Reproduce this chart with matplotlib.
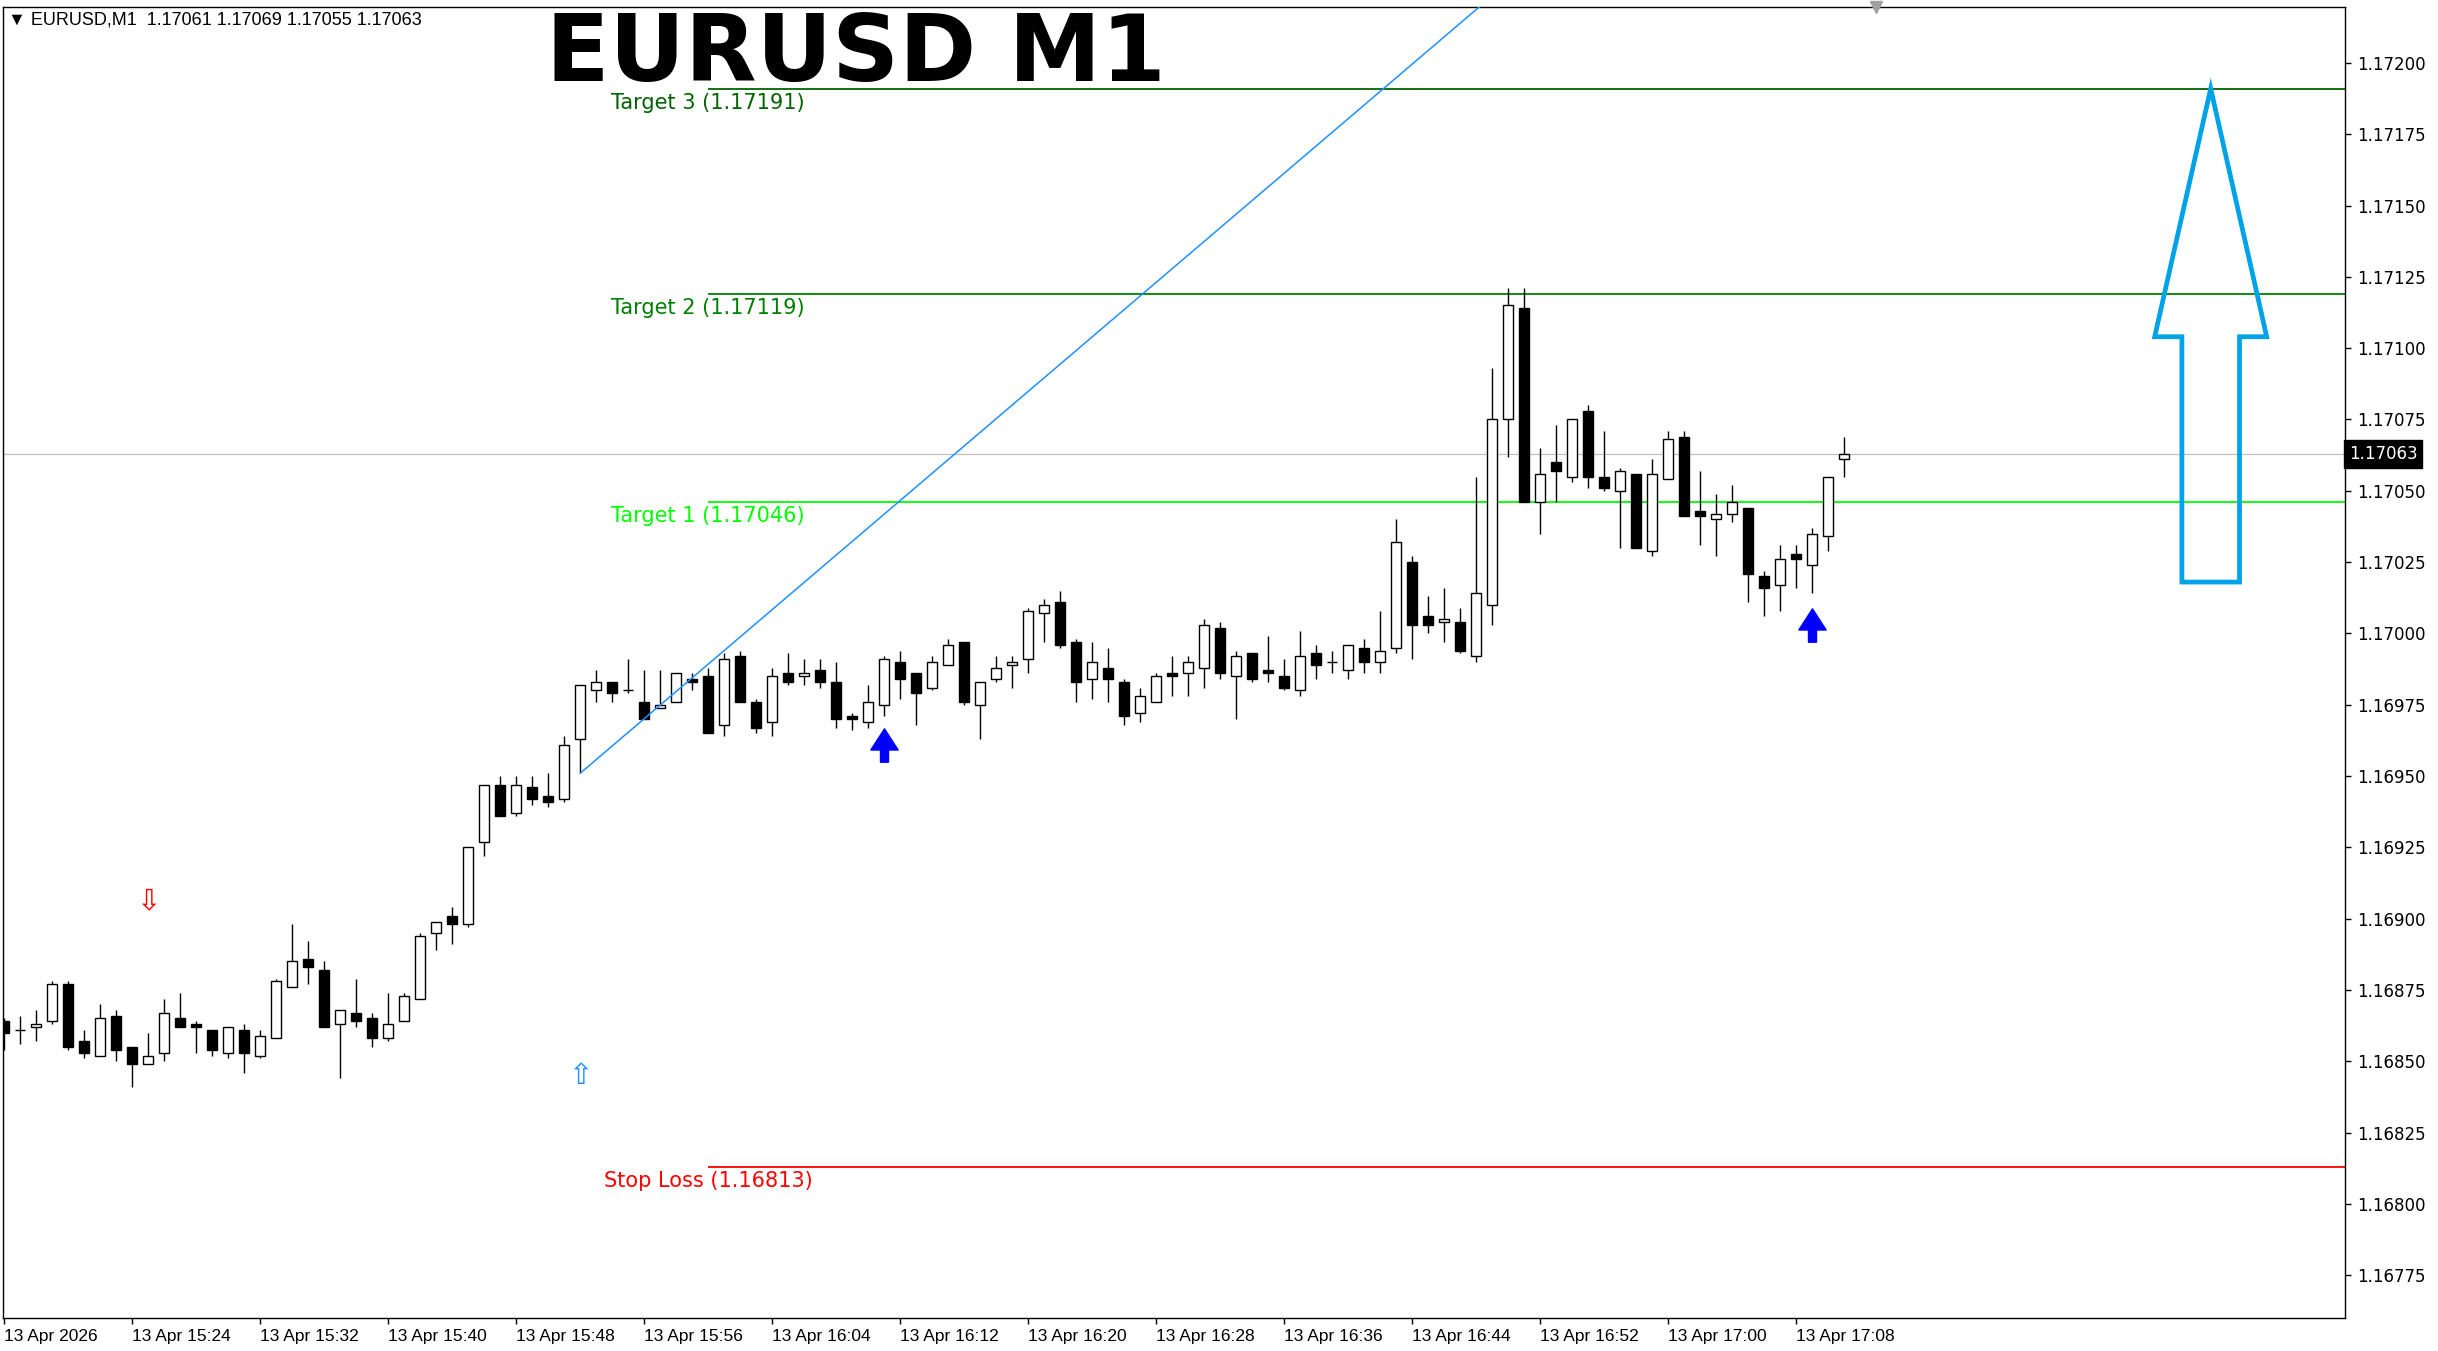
import matplotlib
matplotlib.use('Agg')
import matplotlib.pyplot as plt
import numpy as np
from matplotlib.path import Path
from matplotlib.patches import Polygon
from matplotlib.transforms import blended_transform_factory

# ---- Candles, one per minute from 13 Apr 15:16 ----
opens = [
    1.16864, 1.16861, 1.16862, 1.16864, 1.16877, 1.16857, 1.16852, 1.16866, 1.16855, 1.16849,
    1.16853, 1.16865, 1.16863, 1.16861, 1.16853, 1.16861, 1.16852, 1.16858, 1.16876, 1.16886,
    1.16882, 1.16863, 1.16867, 1.16865, 1.16858, 1.16864, 1.16872, 1.16895, 1.16901, 1.16898,
    1.16927, 1.16947, 1.16937, 1.16946, 1.16943, 1.16942, 1.16963, 1.16980, 1.16983, 1.16980,
    1.16976, 1.16974, 1.16976, 1.16984, 1.16985, 1.16968, 1.16992, 1.16976, 1.16969, 1.16986,
    1.16985, 1.16987, 1.16983, 1.16971, 1.16969, 1.16975, 1.16990, 1.16986, 1.16981, 1.16989,
    1.16997, 1.16975, 1.16984, 1.16989, 1.16991, 1.17007, 1.17011, 1.16997, 1.16984, 1.16988,
    1.16983, 1.16972, 1.16976, 1.16986, 1.16986, 1.16988, 1.17002, 1.16985, 1.16993, 1.16987,
    1.16985, 1.16980, 1.16993, 1.16990, 1.16987, 1.16995, 1.16990, 1.16995, 1.17025, 1.17006,
    1.17004, 1.17004, 1.16992, 1.17010, 1.17075, 1.17114, 1.17046, 1.17060, 1.17055, 1.17078,
    1.17055, 1.17050, 1.17056, 1.17029, 1.17054, 1.17069, 1.17043, 1.17040, 1.17042, 1.17044,
    1.17020, 1.17017, 1.17028, 1.17024, 1.17034, 1.17061,
]
highs = [
    1.16865, 1.16866, 1.16868, 1.16878, 1.16878, 1.16861, 1.16870, 1.16868, 1.16855, 1.16860,
    1.16872, 1.16874, 1.16864, 1.16861, 1.16862, 1.16863, 1.16861, 1.16879, 1.16898, 1.16892,
    1.16885, 1.16868, 1.16879, 1.16867, 1.16874, 1.16874, 1.16895, 1.16899, 1.16904, 1.16925,
    1.16947, 1.16950, 1.16950, 1.16950, 1.16951, 1.16964, 1.16982, 1.16987, 1.16983, 1.16991,
    1.16987, 1.16987, 1.16986, 1.16986, 1.16988, 1.16993, 1.16994, 1.16977, 1.16988, 1.16993,
    1.16991, 1.16991, 1.16990, 1.16972, 1.16982, 1.16992, 1.16994, 1.16986, 1.16992, 1.16998,
    1.16997, 1.16983, 1.16992, 1.16992, 1.17009, 1.17012, 1.17015, 1.16998, 1.16997, 1.16995,
    1.16984, 1.16981, 1.16986, 1.16992, 1.16992, 1.17005, 1.17004, 1.16994, 1.16993, 1.16999,
    1.16991, 1.17001, 1.16996, 1.16994, 1.16996, 1.16998, 1.17008, 1.17040, 1.17027, 1.17013,
    1.17016, 1.17009, 1.17055, 1.17093, 1.17121, 1.17121, 1.17065, 1.17073, 1.17075, 1.17080,
    1.17071, 1.17058, 1.17056, 1.17061, 1.17071, 1.17071, 1.17057, 1.17049, 1.17052, 1.17044,
    1.17022, 1.17031, 1.17031, 1.17037, 1.17055, 1.17069,
]
lows = [
    1.16854, 1.16856, 1.16857, 1.16863, 1.16854, 1.16851, 1.16852, 1.16850, 1.16841, 1.16849,
    1.16850, 1.16862, 1.16853, 1.16852, 1.16851, 1.16846, 1.16851, 1.16858, 1.16876, 1.16877,
    1.16862, 1.16844, 1.16862, 1.16855, 1.16857, 1.16864, 1.16872, 1.16889, 1.16891, 1.16897,
    1.16922, 1.16936, 1.16936, 1.16940, 1.16939, 1.16941, 1.16951, 1.16976, 1.16976, 1.16979,
    1.16970, 1.16974, 1.16976, 1.16980, 1.16965, 1.16964, 1.16976, 1.16965, 1.16964, 1.16982,
    1.16982, 1.16981, 1.16967, 1.16966, 1.16967, 1.16971, 1.16977, 1.16968, 1.16980, 1.16989,
    1.16975, 1.16963, 1.16983, 1.16981, 1.16986, 1.16997, 1.16995, 1.16976, 1.16977, 1.16976,
    1.16968, 1.16969, 1.16976, 1.16978, 1.16978, 1.16981, 1.16984, 1.16970, 1.16983, 1.16983,
    1.16980, 1.16978, 1.16984, 1.16986, 1.16984, 1.16986, 1.16986, 1.16993, 1.16991, 1.17000,
    1.16997, 1.16993, 1.16990, 1.17003, 1.17062, 1.17046, 1.17035, 1.17046, 1.17053, 1.17051,
    1.17050, 1.17030, 1.17030, 1.17027, 1.17054, 1.17041, 1.17031, 1.17027, 1.17039, 1.17011,
    1.17006, 1.17008, 1.17016, 1.17014, 1.17029, 1.17055,
]
closes = [
    1.16860, 1.16861, 1.16863, 1.16877, 1.16855, 1.16853, 1.16865, 1.16854, 1.16849, 1.16852,
    1.16867, 1.16862, 1.16862, 1.16854, 1.16862, 1.16853, 1.16859, 1.16878, 1.16885, 1.16883,
    1.16862, 1.16868, 1.16864, 1.16858, 1.16863, 1.16873, 1.16894, 1.16899, 1.16898, 1.16925,
    1.16947, 1.16936, 1.16947, 1.16942, 1.16941, 1.16961, 1.16982, 1.16983, 1.16979, 1.16980,
    1.16970, 1.16975, 1.16986, 1.16983, 1.16965, 1.16991, 1.16976, 1.16967, 1.16985, 1.16983,
    1.16986, 1.16983, 1.16970, 1.16970, 1.16976, 1.16991, 1.16984, 1.16979, 1.16990, 1.16996,
    1.16976, 1.16983, 1.16988, 1.16990, 1.17008, 1.17010, 1.16996, 1.16983, 1.16990, 1.16984,
    1.16971, 1.16978, 1.16985, 1.16985, 1.16990, 1.17003, 1.16986, 1.16992, 1.16984, 1.16986,
    1.16981, 1.16992, 1.16989, 1.16990, 1.16996, 1.16990, 1.16994, 1.17032, 1.17003, 1.17003,
    1.17005, 1.16994, 1.17014, 1.17075, 1.17115, 1.17046, 1.17056, 1.17057, 1.17075, 1.17055,
    1.17051, 1.17057, 1.17030, 1.17056, 1.17068, 1.17041, 1.17041, 1.17042, 1.17046, 1.17021,
    1.17016, 1.17026, 1.17026, 1.17035, 1.17055, 1.17063,
]

time_labels = ['13 Apr 2026', '13 Apr 15:24', '13 Apr 15:32', '13 Apr 15:40', '13 Apr 15:48',
               '13 Apr 15:56', '13 Apr 16:04', '13 Apr 16:12', '13 Apr 16:20', '13 Apr 16:28',
               '13 Apr 16:36', '13 Apr 16:44', '13 Apr 16:52', '13 Apr 17:00', '13 Apr 17:08']
label_every = 8

symbol = 'EURUSD'
timeframe = 'M1'
last_ohlc = [1.17061, 1.17069, 1.17055, 1.17063]
bid_price = 1.17063

# Target / stop levels drawn from bar 44 onwards
level_names = ['Target 3', 'Target 2', 'Target 1', 'Stop Loss']
level_prices = [1.17191, 1.17119, 1.17046, 1.16813]
level_start = 44

# trend line anchors (bar index, price)
trend_bars = [36, 86.2]
trend_prices = [1.16951, 1.17191]

# big hollow arrow drawn on the right
big_arrow_bars = [136.1, 136.1, 134.4, 137.9, 141.4, 139.7, 139.7]
big_arrow_prices = [1.17018, 1.17104, 1.17104, 1.17191, 1.17104, 1.17104, 1.17018]

# signal arrows
buy_bars = [55, 113]
buy_prices = [1.16961, 1.17003]
hollow_up_bar, hollow_up_price = 36, 1.16845
hollow_down_bar, hollow_down_price = 9, 1.16906

# ---- Plot ----
W, H = 2438, 1351
fig = plt.figure(figsize=(W / 100, H / 100), dpi=100)
left_px, right_px, top_px, bot_px = 3, 2345, 7, 1318
ax = fig.add_axes([left_px / W, 1 - bot_px / H, (right_px - left_px) / W, (bot_px - top_px) / H])

bar_px = 16.0
first_px = 4.3
x_lo = (left_px - first_px) / bar_px
x_hi = (right_px - first_px) / bar_px
ax.set_xlim(x_lo, x_hi)
ax.set_ylim(1.16760, 1.172196)

o = np.array(opens); h = np.array(highs); l = np.array(lows); c = np.array(closes)
x = np.arange(len(o))
bull = c >= o
bottom = np.minimum(o, c)
height = np.abs(c - o)

ax.vlines(x, l, h, color='black', lw=1.0, zorder=3)
ax.bar(x[bull], height[bull], bottom=bottom[bull], width=0.64,
       facecolor='white', edgecolor='black', lw=1.0, zorder=4)
ax.bar(x[~bull], height[~bull], bottom=bottom[~bull], width=0.64,
       facecolor='black', edgecolor='black', lw=1.0, zorder=4)

# bid line
ax.axhline(bid_price, color='#C0C0C0', lw=0.9, zorder=1)

# levels
level_colors = ['#006400', '#008000', '#00FF00', '#FF0000']
for name, p, col in zip(level_names, level_prices, level_colors):
    ax.hlines(p, level_start, x_hi, color=col, lw=1.3, zorder=2)
    ax.annotate(f'{name} ({p:.5f})', (level_start, p), xytext=(0, -3),
                textcoords='offset points', ha='center', va='top',
                color=col, fontsize=15, zorder=5)

# trend line (ray to the right)
slope = (trend_prices[1] - trend_prices[0]) / (trend_bars[1] - trend_bars[0])
tx = np.array([trend_bars[0], x_hi])
ax.plot(tx, trend_prices[0] + slope * (tx - trend_bars[0]), color='#1E90FF', lw=1.1, zorder=5)

# big arrow outline
ax.add_patch(Polygon(np.column_stack([big_arrow_bars, big_arrow_prices]), closed=True,
                     fill=False, edgecolor='#00A2E8', lw=3.4, joinstyle='miter', zorder=6))

# filled buy arrows
arrow_path = Path([(0, 1), (0.82, -0.27), (0.24, -0.27), (0.24, -1), (-0.24, -1),
                   (-0.24, -0.27), (-0.82, -0.27), (0, 1)], closed=True)
ax.plot(buy_bars, buy_prices, ls='none', marker=arrow_path, markersize=24,
        color='#0000FF', mec='#0000FF', zorder=6)

# hollow wingdings style arrows
ax.text(hollow_up_bar, hollow_up_price, '\u21e7', color='#1E90FF', fontsize=21,
        ha='center', va='center', zorder=6)
ax.text(hollow_down_bar, hollow_down_price, '\u21e9', color='#FF0000', fontsize=21,
        ha='center', va='center', zorder=6)

# axes styling
for s in ax.spines.values():
    s.set_color('black')
    s.set_linewidth(1.0)

yticks = [1.16775 + 0.00025 * k for k in range(18)]
ax.set_yticks(yticks)
ax.set_yticklabels([f'{v:.5f}' for v in yticks])
ax.yaxis.tick_right()
ax.tick_params(axis='y', direction='out', length=4, width=1, pad=5, labelsize=12,
               colors='black')

xticks = list(range(0, len(time_labels) * label_every, label_every))
ax.set_xticks(xticks)
ax.set_xticklabels(time_labels, ha='left', fontfamily='Liberation Sans', fontsize=12.5)
ax.tick_params(axis='x', direction='out', length=4, width=1, pad=4)

# bid price box on the scale
tr = blended_transform_factory(ax.transAxes, ax.transData)
ax.text(1.0016, bid_price, f'{bid_price:.5f}', transform=tr, ha='left', va='center',
        fontsize=12, color='white', zorder=7, clip_on=False,
        bbox=dict(boxstyle='square,pad=0.3', facecolor='black', edgecolor='black'))

# chart shift marker at top
ax.plot([117], [1.172196], marker='v', color='#A0A0A0', markersize=8, clip_on=False, zorder=7)

# header line and big title
ohlc_txt = ' '.join(f'{v:.5f}' for v in last_ohlc)
fig.text(8 / W, 1 - 20 / H, f'\u25bc {symbol},{timeframe}  {ohlc_txt}', ha='left', va='center',
         fontsize=13, fontfamily=['Liberation Sans', 'DejaVu Sans'])
fig.text(856 / W, 1 - 81 / H, f'{symbol} {timeframe}', ha='center', va='baseline',
         fontsize=67, fontweight='bold', fontfamily='DejaVu Sans')

fig.savefig('out.png', dpi=100)
plt.close(fig)
